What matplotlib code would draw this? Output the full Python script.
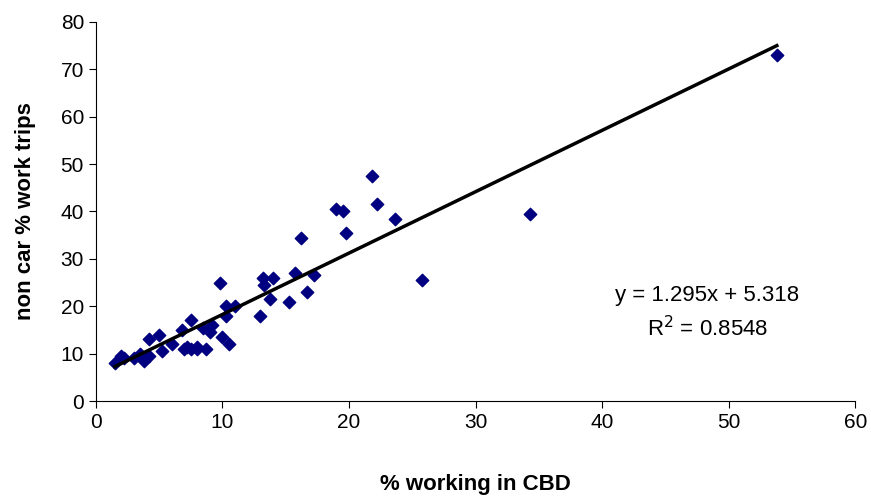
import numpy as np
import matplotlib.pyplot as plt

plt.rcParams['font.family'] = ['Liberation Sans', 'DejaVu Sans']

x = [1.5, 2, 2.2, 3, 3.5, 3.8, 4.2, 4.2, 5, 5.2, 6, 6.8, 7, 7.2, 7.5, 7.5, 8, 8,
     8.5, 8.7, 9, 9.2, 9.8, 10, 10.3, 10.5, 10.3, 11, 13, 13.2, 13.3, 13.8, 14,
     15.3, 15.7, 16.2, 16.7, 17.2, 19, 19.5, 19.8, 21.8, 22.2, 23.6, 25.8, 34.3, 53.8]
y = [8, 9.5, 9, 9, 10, 8.5, 9.5, 13, 14, 10.5, 12, 15, 11, 11.5, 11, 17, 11.5, 11,
     15.5, 11, 14.5, 16, 25, 13.5, 18, 12, 20, 20, 18, 26, 24.5, 21.5, 26,
     21, 27, 34.5, 23, 26.5, 40.5, 40, 35.5, 47.5, 41.5, 38.5, 25.5, 39.5, 73]
slope, intercept = 1.295, 5.318

fig = plt.figure(figsize=(8.71, 4.97), dpi=100)
ax = fig.add_axes([0.110, 0.193, 0.872, 0.763])
ax.scatter(x, y, marker='D', s=40, color='#000080', zorder=3)
xl = np.array([min(x), max(x)])
ax.plot(xl, slope * xl + intercept, color='black', lw=2.5, zorder=4)

ax.set_xlim(0, 60)
ax.set_ylim(0, 80)
ax.set_xticks(range(0, 61, 10))
ax.set_yticks(range(0, 81, 10))
ax.tick_params(labelsize=15, direction='out', length=5)
for s in ['top', 'right']:
    ax.spines[s].set_visible(False)
ax.set_xlabel('% working in CBD', fontsize=16, fontweight='bold', labelpad=30)
ax.set_ylabel('non car % work trips', fontsize=16, fontweight='bold', labelpad=18)
ax.text(48.3, 18.5, 'y = 1.295x + 5.318\nR$^2$ = 0.8548', fontsize=16,
        ha='center', va='center', linespacing=1.5)

plt.savefig('out.png')
